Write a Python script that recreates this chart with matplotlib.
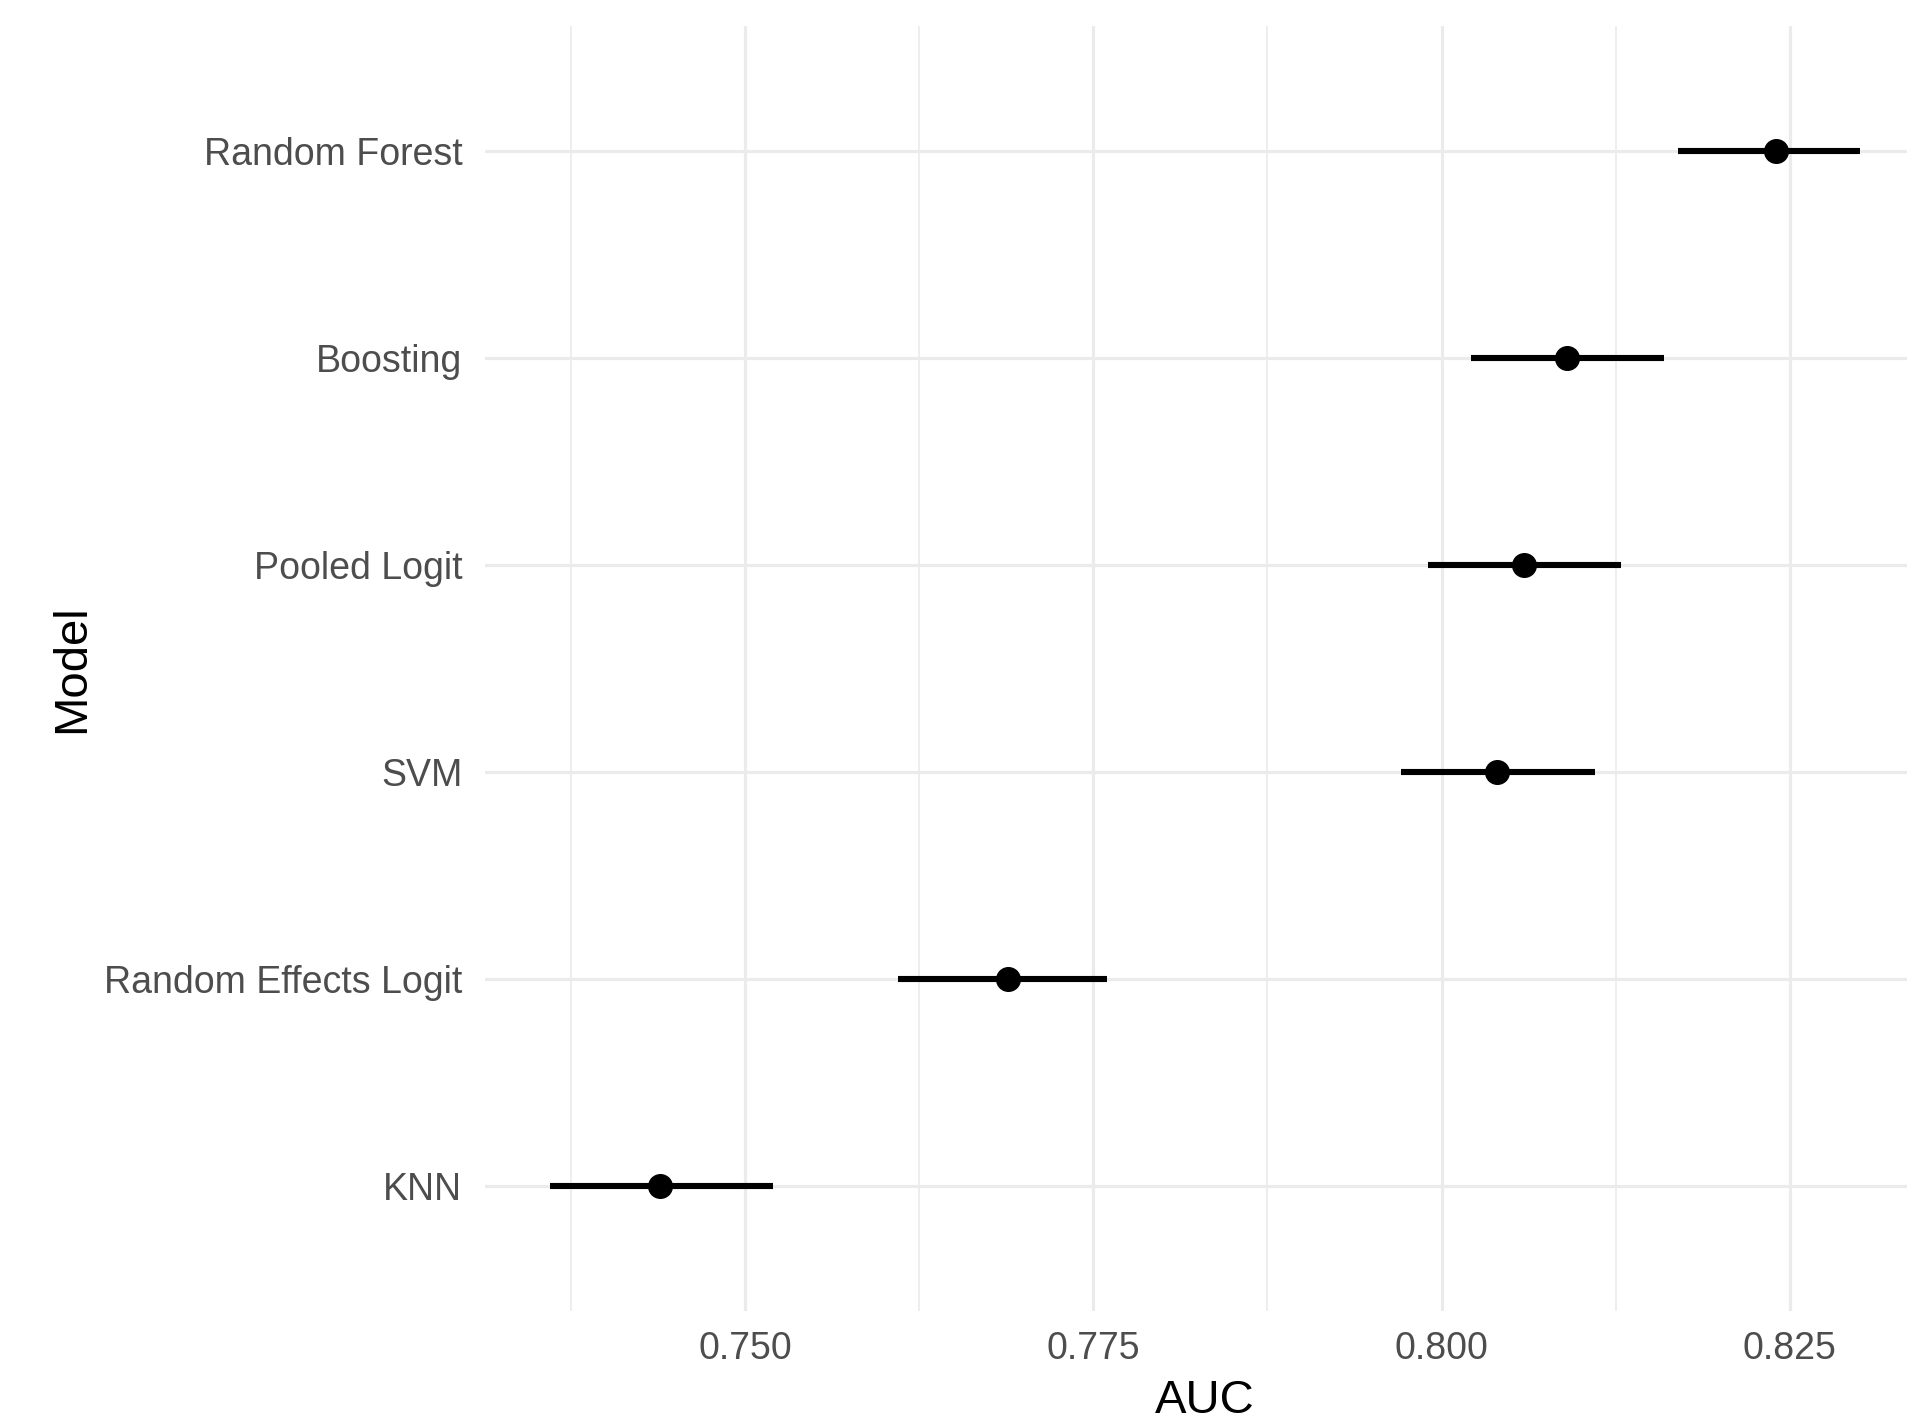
import matplotlib.pyplot as plt
import numpy as np

plt.rcParams['font.family'] = ['Liberation Sans', 'DejaVu Sans']

# data (bottom to top)
models = ['KNN', 'Random Effects Logit', 'SVM', 'Pooled Logit', 'Boosting', 'Random Forest']
auc = [0.7439, 0.7689, 0.8040, 0.8059, 0.8090, 0.8240]
lower = [0.7360, 0.7610, 0.7971, 0.7990, 0.8021, 0.8170]
upper = [0.7520, 0.7760, 0.8110, 0.8129, 0.8160, 0.8300]
xticks = [0.750, 0.775, 0.800, 0.825]

W, H = 1907, 1427
fig = plt.figure(figsize=(W / 100, H / 100), dpi=100)
# panel runs a little past the right edge in the original
ax = fig.add_axes([484.5 / W, 1 - 1310.6 / H, (1925 - 484.5) / W, (1310.6 - 26.4) / H])

y = np.arange(1, len(models) + 1)
ax.hlines(y, lower, upper, color='black', linewidth=4.4, zorder=3)
ax.plot(auc, y, 'o', color='black', markersize=17, zorder=4)

ax.set_xticks(xticks)
ax.set_xticklabels(['%.3f' % t for t in xticks])
ax.set_xticks(np.arange(0.7375, 0.84, 0.025), minor=True)
ax.set_yticks(y)
ax.set_yticklabels(models)

# ggplot-style expansion (set after ticks so they don't widen the view)
span = max(upper) - min(lower)
ax.set_xlim(min(lower) - 0.05 * span, max(upper) + 0.05 * span)
ax.set_ylim(0.4, len(models) + 0.6)

ax.grid(True, which='major', color='#EBEBEB', linewidth=2.3, zorder=0)
ax.grid(True, which='minor', axis='x', color='#EBEBEB', linewidth=1.2, zorder=0)
ax.set_axisbelow(True)
for s in ax.spines.values():
    s.set_visible(False)
ax.tick_params(which='both', length=0)
ax.tick_params(axis='y', labelsize=27, labelcolor='#4D4D4D', pad=16)
ax.tick_params(axis='x', labelsize=27, labelcolor='#4D4D4D', pad=15)

ax.set_xlabel('AUC', fontsize=34, labelpad=8)
ax.set_ylabel('Model', fontsize=34, labelpad=7)

fig.savefig('out.png', dpi=100)
